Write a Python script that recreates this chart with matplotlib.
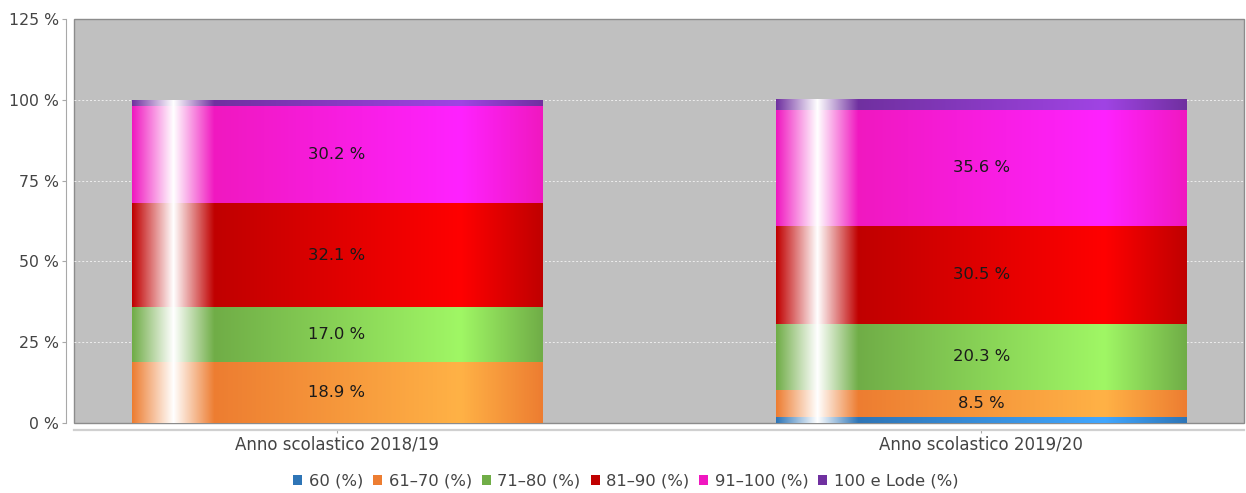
import numpy as np
import matplotlib
matplotlib.use("Agg")
import matplotlib.pyplot as plt
from matplotlib.patches import Patch

plt.rcParams["font.family"] = "DejaVu Sans"

categories = ["Anno scolastico 2018/19", "Anno scolastico 2019/20"]
series = ["60 (%)", "61–70 (%)", "71–80 (%)", "81–90 (%)", "91–100 (%)", "100 e Lode (%)"]
v_60 = [0.0, 1.8]
v_61_70 = [18.9, 8.5]
v_71_80 = [17.0, 20.3]
v_81_90 = [32.1, 30.5]
v_91_100 = [30.2, 35.6]
v_lode = [1.8, 3.3]
values = [v_60, v_61_70, v_71_80, v_81_90, v_91_100, v_lode]
colors = ["#2e75b6", "#ed7d31", "#70ad47", "#c00000", "#f018c0", "#7030a0"]
yticks = [0, 25, 50, 75, 100, 125]


def hex_rgb(h):
    return np.array([int(h[i:i + 2], 16) for i in (1, 3, 5)], dtype=float)


def brighter(rgb):
    # come Color.brighter() di Java
    out = []
    for c in rgb:
        if 0 < c < 3:
            c = 3
        out.append(min(int(c / 0.7), 255))
    return np.array(out, dtype=float)


def gradient(hexcol, n=400):
    c0 = hex_rgb(hexcol)
    c1 = brighter(c0)
    white = np.array([255.0, 255.0, 255.0])
    stops = [0, 0.1, 0.2, 0.8, 1.0]
    cols = np.array([c0, white, c0, c1, c0])
    t = np.linspace(0, 1, n)
    img = np.stack([np.interp(t, stops, cols[:, k]) for k in range(3)], axis=-1)
    return (img / 255.0)[np.newaxis, :, :]


fig = plt.figure(figsize=(12.46, 4.93), dpi=100)
ax = fig.add_axes([74 / 1246, 1 - 423 / 493, 1170 / 1246, 404 / 493])
ax.set_facecolor("#c0c0c0")
ax.patch.set_edgecolor("#8c8c8c")
ax.patch.set_linewidth(1.0)

xlim = (-0.408, 1.408)
# griglia tratteggiata (senza la linea a 125)
ax.hlines(yticks[1:-1], xlim[0], xlim[1], colors="#eeeeee",
          linestyles=(0, (2, 2)), linewidth=0.7, zorder=1)

x = np.arange(len(categories))
width = 0.637
bottom = np.zeros(len(categories))
for vals, col, name in zip(values, colors, series):
    bars = ax.bar(x, vals, width, bottom=bottom, color=col, label=name, zorder=2)
    for b, v in zip(bars, vals):
        if v <= 0:
            continue
        x0, y0 = b.get_x(), b.get_y()
        ax.imshow(gradient(col), extent=(x0, x0 + b.get_width(), y0, y0 + b.get_height()),
                  aspect="auto", interpolation="bilinear", zorder=3)
        if v >= 5:
            ax.text(b.get_x() + b.get_width() / 2, y0 + v / 2, f"{v:.1f} %",
                    ha="center", va="center", fontsize=11.8, color="#1a1a1a", zorder=4)
    bottom += np.array(vals)

ax.set_xlim(*xlim)
ax.set_ylim(0, 125)
ax.set_yticks(yticks)
ax.set_yticklabels([f"{t} %" for t in yticks])
ax.set_xticks(x)
ax.set_xticklabels(categories)

for s in ["top", "right"]:
    ax.spines[s].set_visible(False)
ax.spines["left"].set_position(("outward", 6))
ax.spines["left"].set_color("#a8a8a8")
ax.spines["bottom"].set_position(("outward", 5))
ax.spines["bottom"].set_color("#d0d0d0")
ax.spines["bottom"].set_linewidth(1.6)
ax.tick_params(axis="y", length=3, color="#a8a8a8", labelsize=11.3, labelcolor="#444444", pad=2)
ax.tick_params(axis="x", length=2, color="#a8a8a8", labelsize=12, labelcolor="#444444", pad=2)

handles = [Patch(facecolor=c, edgecolor="none") for c in colors]
fig.legend(handles, series, loc="center", bbox_to_anchor=(626 / 1246, 1 - 481 / 493),
           ncol=6, frameon=False, fontsize=11.8, handlelength=0.55, handleheight=0.55,
           handletextpad=0.4, columnspacing=0.6, labelcolor="#444444")

fig.savefig("out.png", dpi=100)
